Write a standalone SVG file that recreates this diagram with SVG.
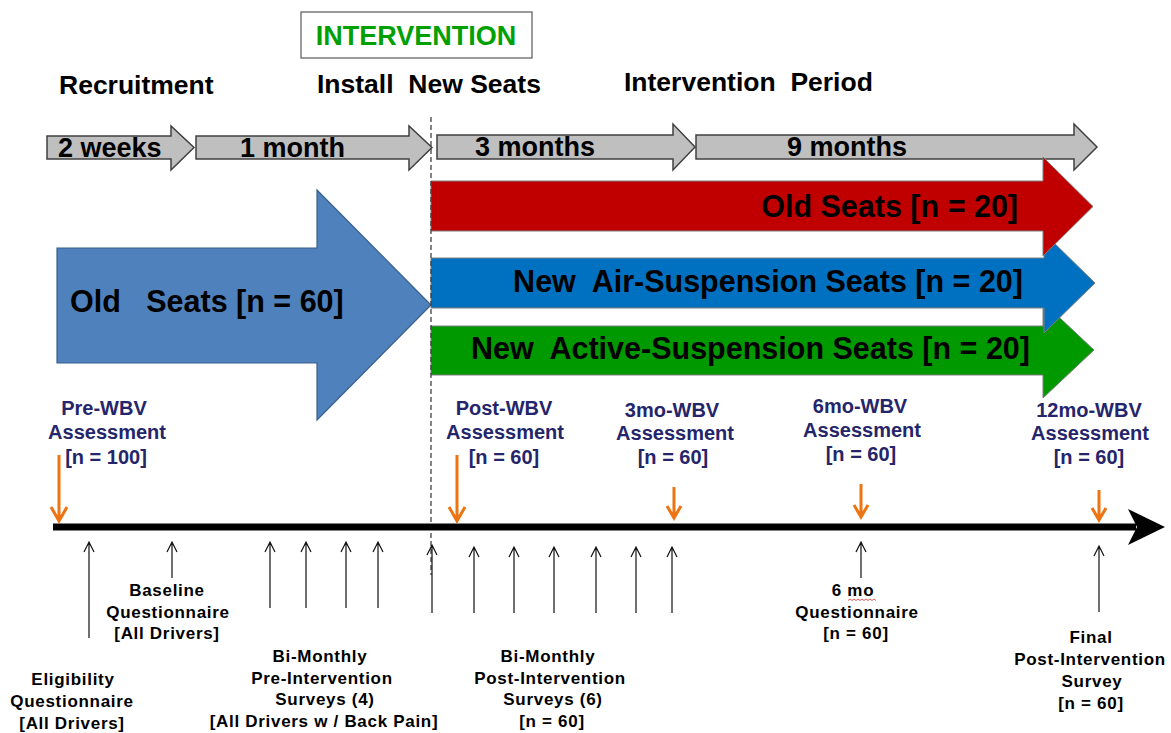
<svg xmlns="http://www.w3.org/2000/svg" width="1171" height="733" viewBox="0 0 1171 733">
<style>
text{font-family:"Liberation Sans",Arial,sans-serif;font-weight:bold;white-space:pre}
.h{font-size:26.5px;fill:#000}
.g{font-size:27px;fill:#000}
.big{font-size:30.5px;fill:#000}
.nv{font-size:20px;fill:#25256b;text-anchor:middle}
.bl{font-size:17px;fill:#000;text-anchor:middle;letter-spacing:0.7px}
.grey{fill:#bfbfbf;stroke:#404040;stroke-width:1.5}
.up{stroke:#111;stroke-width:1.2;fill:none}
.or{stroke:#ee7311;stroke-width:3;fill:none}
</style>
<rect width="1171" height="733" fill="#fff"/>

<g id="intervention-box">
<rect x="301" y="12" width="231" height="46" fill="#fff" stroke="#595959" stroke-width="1.2"/>
<text x="416" y="45" text-anchor="middle" style="font-size:27px;fill:#00a000">INTERVENTION</text>
</g>
<g id="headings">
<text class="h" x="59" y="94">Recruitment</text>
<text class="h" x="317" y="93">Install  New Seats</text>
<text class="h" x="624" y="91">Intervention  Period</text>
</g>

<g id="phase-2weeks">
<polygon class="grey" points="47,136 171,136 171,126 194,147.5 171,170 171,159 47,159"/>
<text class="g" x="58" y="157">2 weeks</text>
</g>
<g id="phase-1month">
<polygon class="grey" points="196,136 409,136 409,126 432,147.5 409,170 409,159 196,159"/>
<text class="g" x="240" y="157">1 month</text>
</g>
<g id="phase-3months">
<polygon class="grey" points="437,135 673,135 673,124 695,147 673,170 673,159 437,159"/>
<text class="g" x="475" y="156">3 months</text>
</g>
<g id="phase-9months">
<polygon class="grey" points="696,135 1074,135 1074,124 1097,147 1074,170 1074,159 696,159"/>
<text class="g" x="787" y="156">9 months</text>
</g>

<g id="old-seats-60">
<polygon points="57,248 317,248 317,190 431,305 317,420 317,363 57,363" fill="#4f81bd" stroke="#3a5f8b" stroke-width="1.2"/>
<text class="big" x="70" y="312">Old   Seats [n = 60]</text>
</g>

<g id="new-active-suspension">
<polygon points="431,326 1043,326 1043,302 1094,350 1043,398 1043,375 431,375" fill="#009900" stroke="#7f7f7f" stroke-width="1"/>
<text class="big" x="1030" y="359" text-anchor="end">New  Active-Suspension Seats [n = 20]</text>
</g>
<g id="new-air-suspension">
<polygon points="431,258 1044,258 1044,233 1095,283 1044,333 1044,308 431,308" fill="#0070c0" stroke="#7f7f7f" stroke-width="1"/>
<text class="big" x="1023" y="292" text-anchor="end">New  Air-Suspension Seats [n = 20]</text>
</g>
<g id="old-seats-20">
<polygon points="431,181 1043,181 1043,157 1093,206.5 1043,256 1043,231 431,231" fill="#c00000" stroke="#7f7f7f" stroke-width="1"/>
<text class="big" x="1018" y="217" text-anchor="end">Old Seats [n = 20]</text>
</g>

<g id="connectors">
<line x1="431" y1="117" x2="431" y2="575" stroke="#333" stroke-width="1.2" stroke-dasharray="5,3"/>
<line x1="53" y1="527" x2="1136" y2="527" stroke="#000" stroke-width="7"/>
<polygon points="1128,509 1165,527 1128,545 1137,527" fill="#000"/>
<g class="or">
<path d="M59,455V520M51,507L59,521L67,507"/>
<path d="M457,455V520M449,507L457,521L465,507"/>
<path d="M674,487V517M667,506L674,518L681,506"/>
<path d="M861,484V516M854,505L861,517L868,505"/>
<path d="M1099,490V519M1092,508L1099,520L1106,508"/>
</g>
<g class="up">
<path d="M89,638V542M84,552L89,542L94,552"/>
<path d="M172,578V542M167,552L172,542L177,552"/>
<path d="M270,608V542M265,552L270,542L275,552"/>
<path d="M306,608V542M301,552L306,542L311,552"/>
<path d="M346,608V542M341,552L346,542L351,552"/>
<path d="M378,608V542M373,552L378,542L383,552"/>
<path d="M432,613V545M427,555L432,545L437,555"/>
<path d="M474,613V547M469,557L474,547L479,557"/>
<path d="M514,613V547M509,557L514,547L519,557"/>
<path d="M554,613V547M549,557L554,547L559,557"/>
<path d="M596,613V547M591,557L596,547L601,557"/>
<path d="M636,613V547M631,557L636,547L641,557"/>
<path d="M672,613V547M667,557L672,547L677,557"/>
<path d="M861,578V542M856,552L861,542L866,552"/>
<path d="M1099,612V546M1094,556L1099,546L1104,556"/>
</g>
</g>

<g id="pre-wbv">
<text class="nv" x="104" y="415">Pre-WBV</text>
<text class="nv" x="107" y="439">Assessment</text>
<text class="nv" x="106" y="464">[n = 100]</text>
</g>
<g id="post-wbv">
<text class="nv" x="504" y="415">Post-WBV</text>
<text class="nv" x="505" y="439">Assessment</text>
<text class="nv" x="504" y="464">[n = 60]</text>
</g>
<g id="wbv-3mo">
<text class="nv" x="672" y="417">3mo-WBV</text>
<text class="nv" x="675" y="440">Assessment</text>
<text class="nv" x="673" y="464">[n = 60]</text>
</g>
<g id="wbv-6mo">
<text class="nv" x="860" y="413">6mo-WBV</text>
<text class="nv" x="862" y="437">Assessment</text>
<text class="nv" x="861" y="461">[n = 60]</text>
</g>
<g id="wbv-12mo">
<text class="nv" x="1089" y="417">12mo-WBV</text>
<text class="nv" x="1090" y="440">Assessment</text>
<text class="nv" x="1089" y="464">[n = 60]</text>
</g>

<g id="eligibility">
<text class="bl" x="73" y="685">Eligibility</text>
<text class="bl" x="72" y="707">Questionnaire</text>
<text class="bl" x="72" y="729">[All Drivers]</text>
</g>
<g id="baseline">
<text class="bl" x="167" y="596">Baseline</text>
<text class="bl" x="168" y="618">Questionnaire</text>
<text class="bl" x="167" y="639">[All Drivers]</text>
</g>
<g id="pre-surveys">
<text class="bl" x="320" y="662">Bi-Monthly</text>
<text class="bl" x="322" y="684">Pre-Intervention</text>
<text class="bl" x="325" y="705">Surveys (4)</text>
<text class="bl" x="324" y="727">[All Drivers w / Back Pain]</text>
</g>
<g id="post-surveys">
<text class="bl" x="548" y="662">Bi-Monthly</text>
<text class="bl" x="550" y="684">Post-Intervention</text>
<text class="bl" x="553" y="705">Surveys (6)</text>
<text class="bl" x="552" y="727">[n = 60]</text>
</g>
<g id="six-mo-questionnaire">
<text class="bl" x="853" y="596">6 mo</text>
<path d="M848,600.5 l2,-1.5 l2,1.5 l2,-1.5 l2,1.5 l2,-1.5 l2,1.5 l2,-1.5 l2,1.5 l2,-1.5 l2,1.5 l2,-1.5 l2,1.5 l2,-1.5 l2,1.5" fill="none" stroke="#e03030" stroke-width="0.8"/>
<text class="bl" x="857" y="618">Questionnaire</text>
<text class="bl" x="856" y="639">[n = 60]</text>
</g>
<g id="final-survey">
<text class="bl" x="1091" y="643">Final</text>
<text class="bl" x="1090" y="665">Post-Intervention</text>
<text class="bl" x="1092" y="687">Survey</text>
<text class="bl" x="1091" y="709">[n = 60]</text>
</g>
</svg>
